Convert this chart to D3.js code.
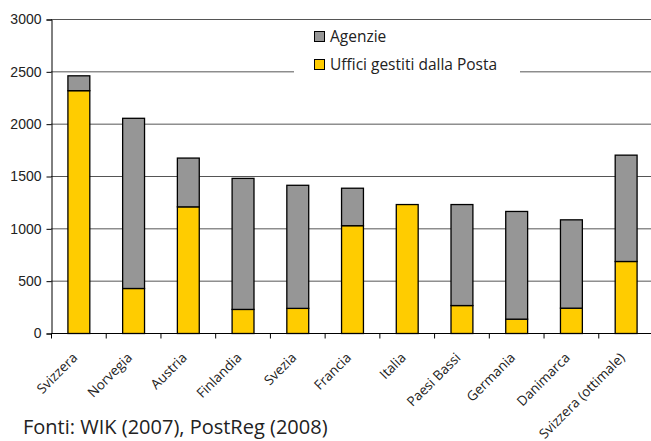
<!DOCTYPE html>
<html><head><meta charset="utf-8">
<script src="https://cdn.jsdelivr.net/npm/d3@7"></script>
<style>body{margin:0;background:#fff;} svg{display:block;font-family:"Open Sans","DejaVu Sans",sans-serif;}</style>
</head><body>
<svg id="c" width="651" height="441"></svg>
<script>
const categories = ["Svizzera","Norvegia","Austria","Finlandia","Svezia","Francia","Italia","Paesi Bassi","Germania","Danimarca","Svizzera (ottimale)"];
const uffici = [2320, 430, 1210, 230, 240, 1030, 1232, 267, 137, 242, 688];
const totali = [2462, 2056, 1676, 1482, 1416, 1388, 1232, 1232, 1166, 1086, 1704];
const agenzie = totali.map((t,i)=>t-uffici[i]);
const yTicks = [0,500,1000,1500,2000,2500,3000];
const seriesNames = ["Agenzie","Uffici gestiti dalla Posta"];
const colors = ["#969696","#FFCC00"];

const svg = d3.select("#c");
const x0 = 51, x1 = 653, yTop = 19, yBot = 333;
const x = d3.scaleBand().domain(categories).range([x0,x1]).paddingInner(0.6).paddingOuter(0.3);
const y = d3.scaleLinear().domain([0,3000]).range([yBot,yTop]);

// gridlines
svg.append("g").selectAll("line").data(yTicks.filter(d=>d>0)).join("line")
  .attr("x1",x0).attr("x2",x1).attr("y1",d=>y(d)+0.5).attr("y2",d=>y(d)+0.5)
  .attr("stroke","#555").attr("stroke-width",1);

// legend background
svg.append("rect").attr("x",294).attr("y",26).attr("width",226).attr("height",56).attr("fill","#fff");

// bars
const stack = d3.stack().keys(["uffici","agenzie"])(categories.map((c,i)=>({cat:c,uffici:uffici[i],agenzie:agenzie[i]})));
const fillFor = {uffici:colors[1], agenzie:colors[0]};
stack.forEach(s=>{
  svg.append("g").selectAll("rect").data(s.filter(d=>d[1]-d[0]>0)).join("rect")
    .attr("x",d=>x(d.data.cat)+0.5).attr("width",x.bandwidth())
    .attr("y",d=>y(d[1])+0.5).attr("height",d=>y(d[0])-y(d[1]))
    .attr("fill",fillFor[s.key]).attr("stroke","#000").attr("stroke-width",1.3);
});

// y axis
const yAxis = d3.axisLeft(y).tickValues(yTicks).tickFormat(d3.format("d")).tickSize(5).tickPadding(5);
const gy = svg.append("g").attr("transform",`translate(${x0+0.5},0.5)`).call(yAxis);
gy.select(".domain").attr("stroke","#000");
gy.selectAll("text").attr("font-size",14).attr("fill","#222");

// x axis
const gx = svg.append("g").attr("transform",`translate(0,${yBot+0.5})`);
gx.append("line").attr("x1",x0).attr("x2",x1).attr("stroke","#000");
const step = x.step();
gx.selectAll("line.t").data(d3.range(categories.length+1)).join("line").attr("class","t")
  .attr("x1",i=>x0+0.5+i*step).attr("x2",i=>x0+0.5+i*step).attr("y1",0).attr("y2",5).attr("stroke","#000");
gx.selectAll("text").data(categories).join("text")
  .attr("transform",d=>`translate(${x(d)+x.bandwidth()/2},${25}) rotate(-45)`)
  .attr("text-anchor","end").attr("font-size",13.5).attr("fill","#222")
  .text(d=>d);

// legend
const lg = svg.append("g");
seriesNames.forEach((n,i)=>{
  const ly = 37 + i*28;
  lg.append("rect").attr("x",314.5).attr("y",ly-5.5).attr("width",10).attr("height",10)
    .attr("fill",colors[i]).attr("stroke","#000").attr("stroke-width",1);
  lg.append("text").attr("x",330).attr("y",ly+5).attr("font-size",15.5).attr("fill","#222").text(n);
});

// source
svg.append("text").attr("x",23).attr("y",434).attr("font-size",20).attr("fill","#222").text("Fonti: WIK (2007), PostReg (2008)");
</script>
</body></html>
